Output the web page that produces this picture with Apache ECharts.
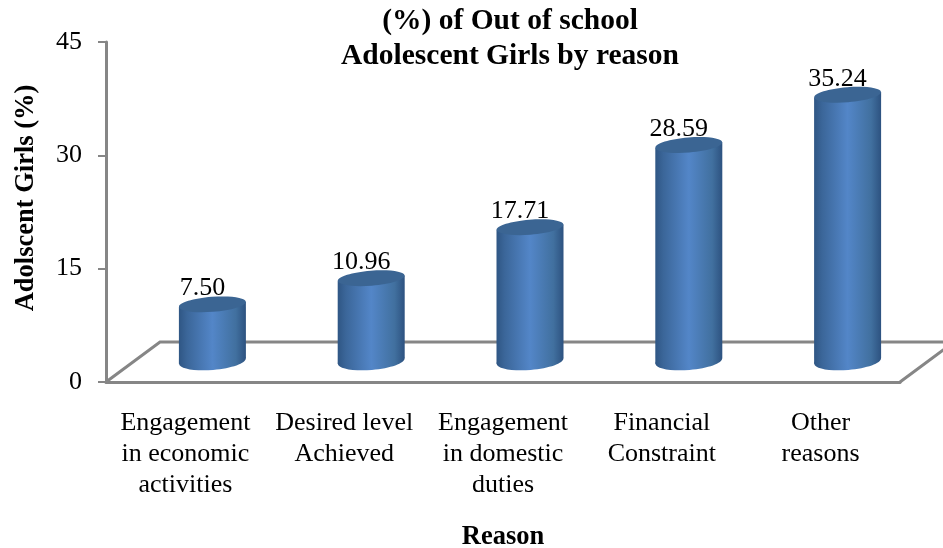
<!DOCTYPE html>
<html>
<head>
<meta charset="utf-8">
<style>html,body{margin:0;padding:0;background:#fff}#c{width:943px;height:548px}</style>
<script src="https://cdn.jsdelivr.net/npm/echarts@6/dist/echarts.min.js"></script>
</head>
<body>
<div id="c"></div>
<script>
var categories = ['Engagement\nin economic\nactivities', 'Desired level\nAchieved', 'Engagement\nin domestic\nduties', 'Financial\nConstraint', 'Other\nreasons'];
var values = [7.50, 10.96, 17.71, 28.59, 35.24];
var labels = ['7.50', '10.96', '17.71', '28.59', '35.24'];
var yTicks = [0, 15, 30, 45];
var titleText = '(%) of Out of school\nAdolescent Girls by reason';
var xName = 'Reason';
var yName = 'Adolscent Girls (%)';

var FONT = '"Liberation Serif","Times New Roman",serif';
var GRAY = '#868686';
var DX = 27, DY = 21, RX = 33.5, RY = 7.5, TILT = 0.08;

function sideGrad() {
  return new echarts.graphic.LinearGradient(0, 0, 1, 0, [
    {offset: 0, color: '#2f5684'},
    {offset: 0.12, color: '#3b6699'},
    {offset: 0.5, color: '#5386c8'},
    {offset: 0.85, color: '#41709f'},
    {offset: 1, color: '#2d5280'}
  ]);
}

function renderFloor(params, api) {
  var g = params.coordSys;
  var l = g.x, r = g.x + g.width, b = g.y + g.height, back = b - 40, d = 54;
  var style = {stroke: GRAY, lineWidth: 3, fill: null};
  return {
    type: 'group',
    children: [
      {type: 'polyline', shape: {points: [[l, b], [l + d, back], [r + d, back], [r, b]]}, style: style}
    ]
  };
}

function renderBar(params, api) {
  var p = api.coord([api.value(0), api.value(1)]);
  var base = api.coord([api.value(0), 0]);
  var cx = p[0] + DX, topY = p[1] - DY, baseY = base[1] - DY;
  var s = RX * Math.sin(TILT);
  return {
    type: 'group',
    children: [
      {type: 'ellipse', x: cx, y: baseY, rotation: TILT,
        shape: {cx: 0, cy: 0, rx: RX, ry: RY + 1.5},
        style: {fill: sideGrad()}},
      {type: 'polygon',
        shape: {points: [[cx - RX, topY + s], [cx + RX, topY - s], [cx + RX, baseY - s], [cx - RX, baseY + s]]},
        style: {fill: sideGrad()}},
      {type: 'ellipse', x: cx, y: topY, rotation: TILT,
        shape: {cx: 0, cy: 0, rx: RX, ry: RY},
        style: {fill: '#3b6593'}},
      {type: 'text', x: cx - 10, y: topY - 3,
        style: {text: labels[params.dataIndex], font: '26px ' + FONT, fill: '#000', align: 'center', verticalAlign: 'bottom'}}
    ]
  };
}

var chart = echarts.init(document.getElementById('c'), null, {renderer: 'canvas'});
chart.setOption({
  animation: false,
  backgroundColor: '#fff',
  title: {
    text: titleText, left: 505, top: -1, textAlign: 'center',
    textStyle: {fontFamily: FONT, fontSize: 29.5, fontWeight: 'bold', color: '#000', lineHeight: 35}
  },
  grid: {left: 106, right: 43, top: 42, bottom: 166, outerBoundsMode: 'none'},
  xAxis: {
    type: 'category', data: categories,
    name: xName, nameLocation: 'middle', nameGap: 142,
    nameTextStyle: {fontFamily: FONT, fontSize: 26.5, fontWeight: 'bold', color: '#000'},
    axisLine: {lineStyle: {color: GRAY, width: 3}},
    axisTick: {show: false},
    axisLabel: {fontFamily: FONT, fontSize: 26, color: '#000', lineHeight: 31, margin: 26, interval: 0}
  },
  yAxis: {
    type: 'value', min: 0, max: 45, interval: 15,
    name: yName, nameLocation: 'middle', nameGap: 66, nameRotate: 90,
    nameTextStyle: {fontFamily: FONT, fontSize: 26.5, fontWeight: 'bold', color: '#000', padding: [0, 0, 0, 28]},
    axisLine: {show: true, lineStyle: {color: GRAY, width: 3}},
    axisTick: {show: true, length: 8, lineStyle: {color: GRAY, width: 2}},
    axisLabel: {fontFamily: FONT, fontSize: 26, color: '#000', margin: 24},
    splitLine: {show: false}
  },
  series: [
    {type: 'custom', coordinateSystem: 'cartesian2d', renderItem: renderFloor, data: [[0, 0]], silent: true, clip: false, z: 1},
    {type: 'custom', coordinateSystem: 'cartesian2d', renderItem: renderBar,
      data: values.map(function (v, i) { return [i, v]; }), encode: {x: 0, y: 1}, clip: false, z: 3}
  ]
});
</script>
</body>
</html>
